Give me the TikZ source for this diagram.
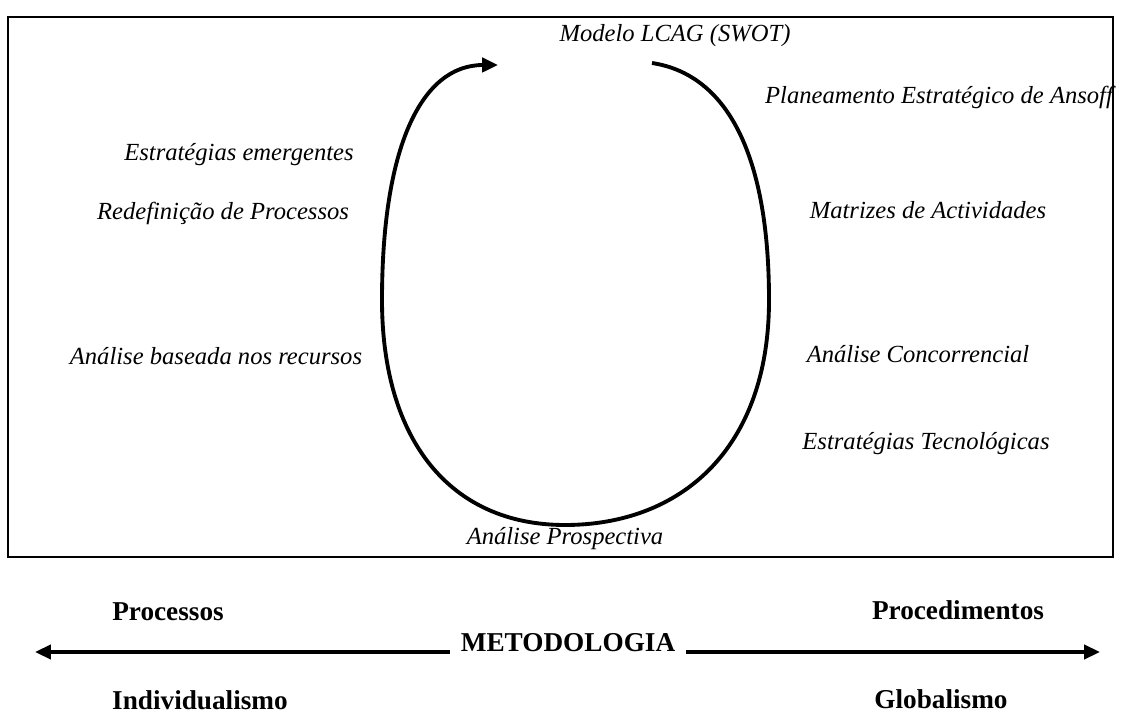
\documentclass[tikz,border=0pt]{standalone}
\usepackage{fontspec}
\setmainfont{Liberation Serif}
\usetikzlibrary{arrows.meta}
\begin{document}
\begin{tikzpicture}[x=0.02cm,y=-0.02cm,
  lbl/.style={font=\fontsize{14}{16}\selectfont\itshape, inner sep=0pt},
  axislbl/.style={font=\fontsize{15.5}{17}\selectfont\bfseries, inner sep=0pt},
  loop/.style={line width=2.2pt, -{Triangle[length=9pt,width=8pt]}},
  axis/.style={line width=2pt, -{Triangle[length=9pt,width=8pt]}}]
\useasboundingbox (0,0) rectangle (1128,715);
% frame
\draw[line width=1.2pt] (8,17) rectangle (1113,557);
% cycle of methods
\coordinate (start) at (652,63);
\coordinate (tip) at (498,65);
\draw[loop] (start) .. controls (730,75) and (769,160) .. (769,300)
  .. controls (769,450) and (680,525) .. (565,525)
  .. controls (450,525) and (382,440) .. (382,300)
  .. controls (382,150) and (420,65) .. (tip);
% labels around the cycle
\node[lbl] (swot) at (675,36) {Modelo LCAG (SWOT)};
\node[lbl] (ansoff) at (939,97) {Planeamento Estratégico de Ansoff};
\node[lbl] (emerg) at (239,155) {Estratégias emergentes};
\node[lbl] (redef) at (223,213) {Redefinição de Processos};
\node[lbl] (matriz) at (928,210) {Matrizes de Actividades};
\node[lbl] (recursos) at (216,356) {Análise baseada nos recursos};
\node[lbl] (concor) at (918,354) {Análise Concorrencial};
\node[lbl] (tecno) at (926,444) {Estratégias Tecnológicas};
\node[lbl] (prosp) at (565,539) {Análise Prospectiva};
% methodology axis
\node[axislbl] (proc) at (168,612) {Processos};
\node[axislbl] (proced) at (958,610) {Procedimentos};
\node[axislbl] (metod) at (568,643) {METODOLOGIA};
\node[axislbl] (indiv) at (200,700) {Individualismo};
\node[axislbl] (glob) at (941,699) {Globalismo};
\coordinate (leftend) at (35,652);
\coordinate (rightend) at (1100,652);
\draw[axis] ([xshift=-6pt]metod.west |- leftend) -- (leftend);
\draw[axis] ([xshift=6pt]metod.east |- rightend) -- (rightend);
\end{tikzpicture}
\end{document}
